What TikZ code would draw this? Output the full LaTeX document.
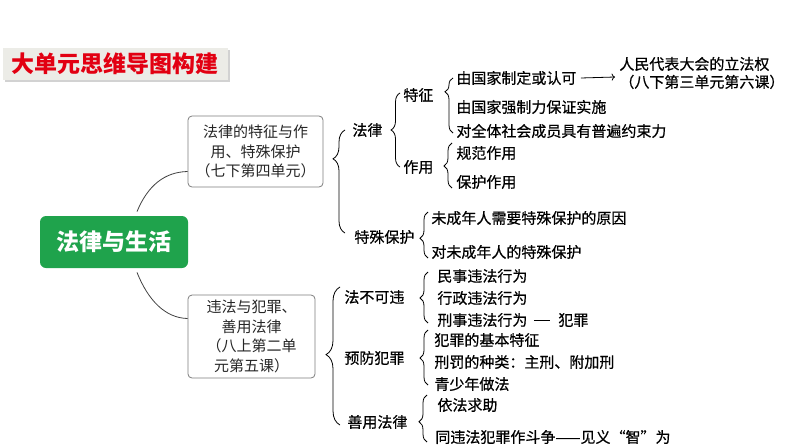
\documentclass[tikz,border=0pt]{standalone}
\usepackage{fontspec}
\setmainfont{Noto Sans CJK SC}
\newfontfamily\itemfont{Noto Sans CJK SC}[FakeBold=0.6]
\usetikzlibrary{decorations.pathreplacing,shadows,calc,arrows.meta}

\definecolor{titlered}{RGB}{226,0,18}
\definecolor{titlebg}{RGB}{236,236,231}
\definecolor{lawgreen}{RGB}{31,163,76}
\definecolor{boxline}{RGB}{125,125,125}

\tikzset{
  item/.style={anchor=west, inner sep=0pt, font=\fontsize{15}{18}\selectfont\itemfont},
  unitbox/.style={draw=boxline, rounded corners=4pt, align=center,
    font=\fontsize{15}{19.5}\selectfont, text=black!85},
  lbrace/.style 2 args={decorate, decoration={brace, amplitude=#1, aspect=#2}},
}

\begin{document}
\begin{tikzpicture}[x=1pt, y=-1pt, line width=0.8pt]
    \useasboundingbox (0,0) rectangle (794,447);

    % title and centre
    \node[fill=titlebg, minimum width=225pt, minimum height=32pt,
      drop shadow={shadow xshift=2pt, shadow yshift=-2pt, fill=black!35},
      text=titlered, font=\fontsize{23}{26}\selectfont\bfseries] (title) at (115,64) {大单元思维导图构建};
    \node[fill=lawgreen, rounded corners=6pt, minimum width=148pt, minimum height=52pt,
      text=white, font=\fontsize{23}{26}\selectfont\bfseries] (life) at (114,242) {法律与生活};

    % unit boxes
    \node[unitbox, minimum width=135pt, minimum height=71pt] (unitA) at (255.5,151.5)
      {法律的特征与作\\用、特殊保护\\（七下第四单元）};
    \node[unitbox, minimum width=127pt, minimum height=83pt] (unitB) at (251.5,336.5)
      {违法与犯罪、\\善用法律\\（八上第二单\\元第五课）};

    \draw[black!75] ($(life.north)+(23,-4)$) .. controls (148,185) and (165,172) .. ($(unitA.west)+(0,20)$);
    \draw[black!75] ($(life.south)+(23,4)$) .. controls (148,300) and (165,318) .. ($(unitB.west)+(0,-18)$);

    % upper branch
    \draw[lbrace={12pt}{0.72}] (345,233) -- (345,130);
    \node[item] (law) at (352,130) {法律};
    \node[item] (special) at (354,237) {特殊保护};

    \draw[lbrace={9pt}{0.5}] (400,167) -- (400,93);
    \node[item] (feature) at (403,95) {特征};
    \node[item] (role) at (403,167) {作用};

    \draw[lbrace={8pt}{0.75}] (453,133) -- (453,78);
    \node[item] (feat1) at (456,78) {由国家制定或认可};
    \node[item] (feat2) at (456,107) {由国家强制力保证实施};
    \node[item] (feat3) at (456,131) {对全体社会成员具有普遍约束力};
    \node[item, align=left] (power) at (619,73) {人民代表大会的立法权\\（八下第三单元第六课）};
    \draw[->] ($(feat1.east)+(4,0)$) -- ($(power.west)+(-4,4)$);

    \draw[lbrace={8pt}{0.49}] (452,188) -- (452,143);
    \node[item] (role1) at (456,153) {规范作用};
    \node[item] (role2) at (456,182) {保护作用};

    \draw[lbrace={8pt}{0.43}] (428,258) -- (428,212);
    \node[item] (spec1) at (431,218) {未成年人需要特殊保护的原因};
    \node[item] (spec2) at (431,252) {对未成年人的特殊保护};

    % lower branch
    \draw[lbrace={14pt}{0.51}] (340,425) -- (340,287);
    \node[item] (nobreak) at (344,297) {法不可违};
    \node[item] (prevent) at (344,358) {预防犯罪};
    \node[item] (uselaw) at (347,422) {善用法律};

    \draw[lbrace={8pt}{0.49}] (428,323) -- (428,272);
    \node[item] (act1) at (437,276) {民事违法行为};
    \node[item] (act2) at (437,298) {行政违法行为};
    \node[item] (act3) at (437,320) {刑事违法行为};
    \node[item] (crime) at (558,320) {犯罪};
    \draw[line width=0.6pt] ($(act3.east)+(6,0)$) -- ($(crime.west)+(-8,0)$);

    \draw[lbrace={8pt}{0.49}] (428,385) -- (428,330);
    \node[item] (prev1) at (434,340) {犯罪的基本特征};
    \node[item] (prev2) at (434,362) {刑罚的种类：主刑、附加刑};
    \node[item] (prev3) at (434,384) {青少年做法};

    \draw[lbrace={8pt}{0.43}] (427,442) -- (427,395);
    \node[item] (use1) at (437,405) {依法求助};
    \node[item] (use2) at (435,437) {同违法犯罪作斗争——见义“智”为};
\end{tikzpicture}
\end{document}
